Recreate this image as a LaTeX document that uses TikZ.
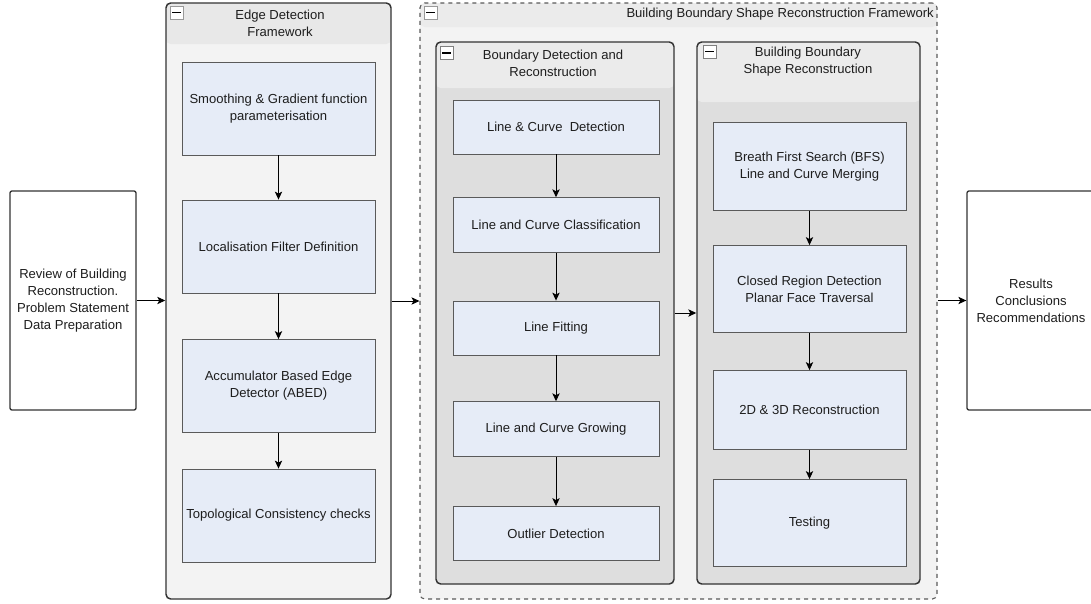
\documentclass[tikz,border=0pt]{standalone}
\usepackage{fontspec}
\setmainfont{Liberation Sans}
\usepackage{tikz}
\usetikzlibrary{arrows.meta}
\definecolor{stagefill}{HTML}{E6ECF7}
\definecolor{stageline}{HTML}{5A5A5A}
\definecolor{panelline}{HTML}{333333}
\definecolor{lightbody}{HTML}{F3F3F3}
\definecolor{lighthead}{HTML}{E8E8E8}
\definecolor{darkbody}{HTML}{DEDEDE}
\definecolor{darkhead}{HTML}{EBEBEB}
\definecolor{inktext}{HTML}{1E1E1E}
\tikzset{
  font={\fontsize{9.8pt}{12.8pt}\selectfont}}
\tikzset{
  stage/.style={draw=stageline, fill=stagefill, shape=rectangle, line width=0.6pt,
    inner sep=0pt, align=center, text=inktext, minimum width=144.75pt},
  endbox/.style={draw=panelline, fill=white, shape=rectangle, line width=1pt,
    rounded corners=1.5pt, inner sep=0pt, align=center, text=inktext,
    minimum height=164.25pt},
  panel/.style n args={3}{draw=panelline, line width=1.1pt, rounded corners=3.5pt,
    fill=#1, inner sep=0pt,
    path picture={\fill[#2] (path picture bounding box.north west) rectangle
      ([yshift=-#3]path picture bounding box.north east);}},
  title/.style={align=center, text=inktext, inner sep=0pt},
  btn/.style={draw=gray!80, fill=white, line width=0.5pt, minimum size=9.75pt, inner sep=0pt,
    path picture={\draw[black, line width=1.1pt] ([xshift=1.8pt]path picture bounding box.west)
      -- ([xshift=-1.8pt]path picture bounding box.east);}},
  flow/.style={-{Stealth[length=6pt, width=5.5pt, inset=1.5pt]}, line width=0.7pt, black}}

\begin{document}
\begin{tikzpicture}[x=0.75pt, y=-0.75pt]
  \useasboundingbox (0,0) rectangle (1091,603);
  % outer frames
  \node (edf) [panel={lightbody}{lighthead}{30.75pt}, minimum width=168.75pt, minimum height=447pt] at (278.5,301) {};
  \node (bbsr) [panel={lightbody}{darkhead}{18pt}, draw=stageline, line width=0.8pt, dashed,
    minimum width=387.75pt, minimum height=447pt] at (678.5,301) {};
  \node (bdr) [panel={darkbody}{darkhead}{34.5pt}, minimum width=178.5pt, minimum height=406.5pt] at (555,313) {};
  \node (bsr) [panel={darkbody}{darkhead}{45pt}, minimum width=167.25pt, minimum height=406.5pt] at (808.5,313) {};
  % titles and buttons
  \node (edf-title) [title] at (280,23) {Edge Detection\\Framework};
  \node (bbsr-title) [title, anchor=east] at (934,14) {Building Boundary Shape Reconstruction Framework};
  \node (bdr-title) [title] at (553,63) {Boundary Detection and\\Reconstruction};
  \node (bsr-title) [title] at (808,61.5) {Building Boundary\\Shape Reconstruction};
  \node (edf-btn) [btn] at (176.5,12.5) {};
  \node (bbsr-btn) [btn] at (430.5,12.5) {};
  \node (bdr-btn) [btn, draw=gray] at (446.5,53) {};
  \node (bsr-btn) [btn, draw=gray] at (709.5,51.5) {};
  % start and end
  \node (rev) [endbox, minimum width=94.5pt] at (73,300.5) {Review of Building\\Reconstruction.\\Problem Statement\\Data Preparation};
  \node (res) [endbox, minimum width=96pt] at (1031,300.5) {Results\\Conclusions\\Recommendations};
  % edge detection
  \node (sg) [stage, minimum height=69.75pt] at (278.5,108.5) {Smoothing \& Gradient function\\parameterisation};
  \node (lf) [stage, minimum height=69.75pt] at (278.5,246.5) {Localisation Filter Definition};
  \node (abed) [stage, minimum height=69.75pt] at (278.5,386) {Accumulator Based Edge\\Detector (ABED)};
  \node (tc) [stage, minimum height=69.75pt] at (278.5,515.5) {Topological Consistency checks};
  % boundary detection
  \node (lcd) [stage, minimum width=154.5pt, minimum height=40.5pt] at (556,127) {Line \& Curve\ \ Detection};
  \node (lcc) [stage, minimum width=154.5pt, minimum height=41pt] at (556,225) {Line and Curve Classification};
  \node (lfit) [stage, minimum width=154.5pt, minimum height=40.5pt] at (556,328) {Line Fitting};
  \node (lcg) [stage, minimum width=154.5pt, minimum height=41pt] at (556,429) {Line and Curve Growing};
  \node (od) [stage, minimum width=154.5pt, minimum height=40.5pt] at (556,533.5) {Outlier Detection};
  % shape reconstruction
  \node (bfs) [stage, minimum height=66pt] at (809.5,166.5) {Breath First Search (BFS)\\Line and Curve Merging};
  \node (crd) [stage, minimum height=65.25pt] at (809.5,289) {Closed Region Detection\\Planar Face Traversal};
  \node (rec) [stage, minimum height=59.25pt] at (809.5,410) {2D \& 3D Reconstruction};
  \node (tst) [stage, minimum height=65.25pt] at (809.5,523) {Testing};
  % connectors
  \draw[flow] (rev.east) -- (rev.east -| edf.west);
  \draw[flow] (edf) -- (bbsr);
  \draw[flow] (bdr) -- (bsr);
  \draw[flow] (res.west -| bbsr.east) -- (res.west);
  \draw[flow] (sg) -- (lf);
  \draw[flow] (lf) -- (abed);
  \draw[flow] (abed) -- (tc);
  \draw[flow] (lcd) -- (lcc);
  \draw[flow] (lcc) -- (lfit);
  \draw[flow] (lfit) -- (lcg);
  \draw[flow] (lcg) -- (od);
  \draw[flow] (bfs) -- (crd);
  \draw[flow] (crd) -- (rec);
  \draw[flow] (rec) -- (tst);
\end{tikzpicture}
\end{document}
